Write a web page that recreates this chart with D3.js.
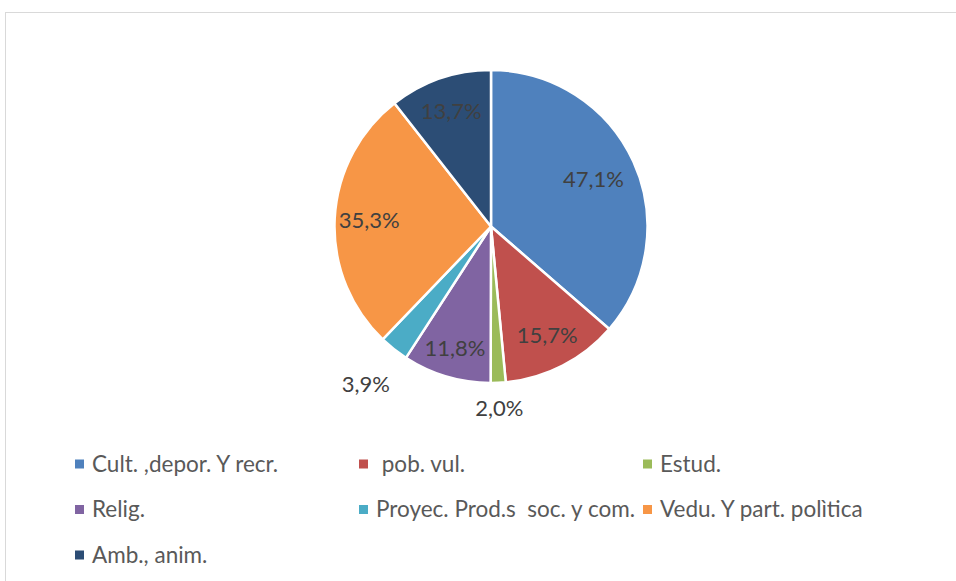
<!DOCTYPE html>
<html>
<head>
<meta charset="utf-8">
<script src="https://cdn.jsdelivr.net/npm/d3@7"></script>
<style>
  body { margin: 0; background: #fff; }
  text { white-space: pre; }
</style>
</head>
<body>
<script>
// categories and values (in drawing order clockwise from 12 o'clock)
var categories = ["Cult. ,depor. Y recr.", " pob. vul.", "Estud.", "Relig.", "Proyec. Prod.s  soc. y com.", "Vedu. Y part. polìtica", "Amb., anim."];
var values = [47.1, 15.7, 2.0, 11.8, 3.9, 35.3, 13.7];
var labels = ["47,1%", "15,7%", "2,0%", "11,8%", "3,9%", "35,3%", "13,7%"];
var colors = ["#4f81bd", "#c0504d", "#9bbb59", "#8064a2", "#4bacc6", "#f79646", "#2c4d75"];

var W = 956, H = 581;
var cx = 491, cy = 226.5, r = 156.5;

// label distance as fraction of radius (excel "best fit" look)
var labelDist = [0.72, 0.785, 1.16, 0.81, 1.29, 0.78, 0.78];

var svg = d3.select("body").append("svg")
    .attr("width", W)
    .attr("height", H);

// chart border
svg.append("rect")
    .attr("x", 5.5).attr("y", 12.5)
    .attr("width", W).attr("height", H)
    .attr("fill", "white")
    .attr("stroke", "#d9d9d9")
    .attr("stroke-width", 1);

var pie = d3.pie().sort(null).value(function(d) { return d; });
var arcs = pie(values);

var arc = d3.arc().innerRadius(0).outerRadius(r);

var g = svg.append("g").attr("transform", "translate(" + cx + "," + cy + ")");

g.selectAll("path")
    .data(arcs)
    .enter()
    .append("path")
    .attr("d", arc)
    .attr("fill", function(d, i) { return colors[i]; })
    .attr("stroke", "white")
    .attr("stroke-width", 2.5)
    .attr("stroke-linejoin", "round");

// data labels
g.selectAll("text.lbl")
    .data(arcs)
    .enter()
    .append("text")
    .attr("class", "lbl")
    .attr("x", function(d, i) {
        var a = (d.startAngle + d.endAngle) / 2;
        return Math.sin(a) * r * labelDist[i];
    })
    .attr("y", function(d, i) {
        var a = (d.startAngle + d.endAngle) / 2;
        return -Math.cos(a) * r * labelDist[i];
    })
    .attr("dy", "0.35em")
    .attr("text-anchor", "middle")
    .attr("font-family", "Lato, sans-serif")
    .attr("font-size", "22px")
    .attr("fill", "#404040")
    .text(function(d, i) { return labels[i]; });

// legend, 3 columns
var legend = svg.append("g").attr("class", "legend");
var colX = [75, 359, 643], rowY = [464, 509.5, 555];

var item = legend.selectAll("g")
    .data(categories)
    .enter()
    .append("g")
    .attr("transform", function(d, i) {
        return "translate(" + colX[i % 3] + "," + rowY[Math.floor(i / 3)] + ")";
    });

item.append("rect")
    .attr("x", 0).attr("y", -4.5)
    .attr("width", 9).attr("height", 9)
    .attr("fill", function(d, i) { return colors[i]; });

item.append("text")
    .attr("x", 17)
    .attr("y", 0)
    .attr("dy", "0.35em")
    .attr("font-family", "Lato, sans-serif")
    .attr("font-size", "22.5px")
    .attr("fill", "#595959")
    .text(function(d) { return d; });
</script>
</body>
</html>
